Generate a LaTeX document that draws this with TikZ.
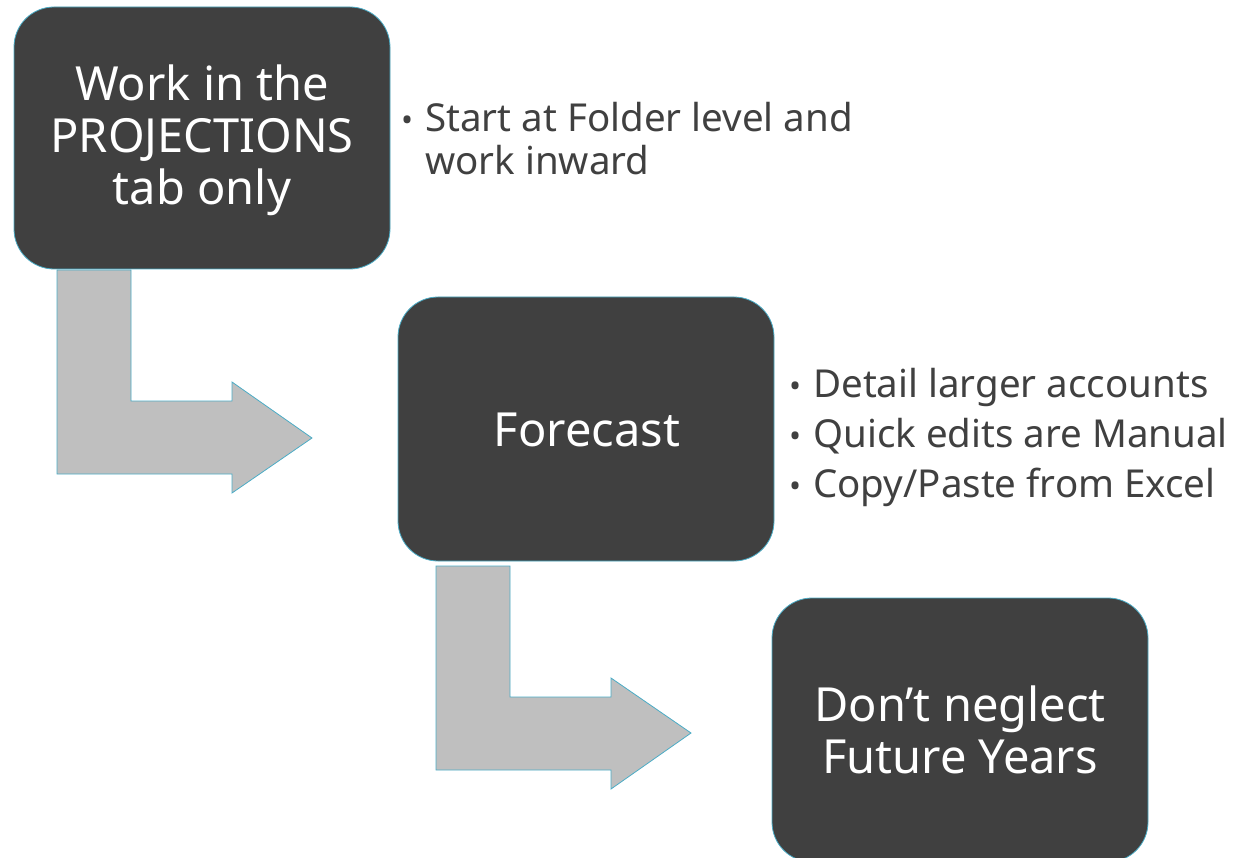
\documentclass[tikz,border=0pt]{standalone}
\usepackage{fontspec}
\setmainfont{Noto Sans}
\definecolor{boxfill}{HTML}{404040}
\definecolor{edge}{HTML}{4BACC6}
\definecolor{arrowfill}{HTML}{BFBFBF}
\definecolor{txt}{HTML}{404040}
\begin{document}
\begin{tikzpicture}[x=1pt,y=-1pt,
  stepbox/.style={draw=edge,line width=0.8pt,fill=boxfill,rounded corners=40pt},
  bendarrow/.style={draw=edge,line width=0.8pt,fill=arrowfill,line join=miter},
  boxtext/.style={text=white,font=\fontsize{47}{52}\selectfont,align=center,inner sep=0pt},
  bullettext/.style={text=txt,font=\fontsize{38.5}{43}\selectfont,align=left,anchor=base west,inner sep=0pt},
  dotmark/.style={text=txt,font=\fontsize{32}{43}\selectfont,anchor=base west,inner sep=0pt}]
\useasboundingbox (0,0) rectangle (1238,858);
\clip (0,0) rectangle (1238,858);
% bent arrows
\draw[bendarrow] (57,270) -- (131,270) -- (131,401) -- (232,401) -- (232,382) -- (312,438) -- (232,493) -- (232,474) -- (57,474) -- cycle;
\draw[bendarrow] (436,566) -- (510,566) -- (510,697) -- (611,697) -- (611,678) -- (691,733) -- (611,789) -- (611,770) -- (436,770) -- cycle;
% boxes
\draw[stepbox] (14,7) rectangle (390,269);
\draw[stepbox] (398,297) rectangle (774,561);
\draw[stepbox] (772,598) rectangle (1148,862);
\node[boxtext] (b1) at (202,140) {Work in the\\PROJECTIONS\\tab only};
\node[boxtext] (b2) at (587,430) {Forecast};
\node[boxtext] (b3) at (960,730) {Don’t neglect\\Future Years};
% bullets
\node[dotmark] (d1) at (401,132) {•};
\node[bullettext] (t1) at (425,132) {Start at Folder level and};
\node[bullettext] (t1b) at (425,175) {work inward};
\node[dotmark] (d2) at (789,397) {•};
\node[bullettext] (t2) at (813,397) {Detail larger accounts};
\node[dotmark] (d3) at (789,447) {•};
\node[bullettext] (t3) at (813,447) {Quick edits are Manual};
\node[dotmark] (d4) at (789,497) {•};
\node[bullettext] (t4) at (813,497) {Copy/Paste from Excel};
\end{tikzpicture}
\end{document}
